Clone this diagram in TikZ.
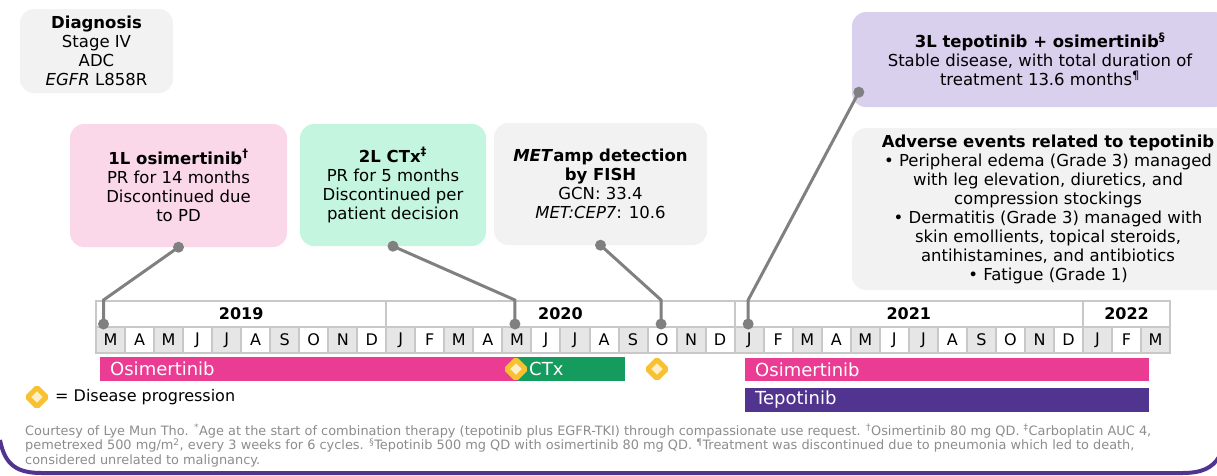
\documentclass[tikz,border=0pt]{standalone}
\usepackage{fontspec}
\setmainfont{DejaVu Sans}
\usepackage{tikz}
\usetikzlibrary{positioning, shapes.geometric}

\definecolor{boxgrey}{HTML}{F2F2F2}
\definecolor{boxpink}{HTML}{FAD7E9}
\definecolor{boxgreen}{HTML}{C3F5DF}
\definecolor{boxlilac}{HTML}{D9D0EE}
\definecolor{osipink}{HTML}{E93C92}
\definecolor{ctxgreen}{HTML}{169B5F}
\definecolor{tepopurple}{HTML}{51348F}
\definecolor{lnkgrey}{HTML}{808080}
\definecolor{gridgrey}{HTML}{C8C8C8}
\definecolor{cellgrey}{HTML}{E6E6E6}
\definecolor{pdyellow}{HTML}{F8C132}
\definecolor{pdlight}{HTML}{FDEFC9}
\definecolor{notegrey}{HTML}{8C8C8C}

\begin{document}
\begin{tikzpicture}[
        x=1pt, y=-1pt,
        infobox/.style={rectangle, rounded corners=14pt, align=center, inner sep=0pt, font=\fontsize{16.5}{19}\selectfont},
        conn/.style={draw=lnkgrey, line width=3pt},
        knob/.style={circle, fill=lnkgrey, inner sep=0pt, minimum size=11pt},
        mcell/.style={draw=gridgrey, line width=2pt, inner sep=0pt, minimum height=26pt, font=\fontsize{16}{16}\selectfont},
        tbar/.style={anchor=north west, inner xsep=10pt, inner ysep=0pt, minimum height=23.5pt, text=white, align=left, font=\fontsize{18}{18}\selectfont},
        pd/.style={diamond, aspect=1, minimum size=21pt, inner sep=0pt, fill=pdlight, draw=pdyellow, line width=5pt, rounded corners=1.5pt}]

    \clip (0,0) rectangle (1217,475);

    % Boites
    \node[infobox, fill=boxgrey, minimum width=153pt, minimum height=84pt] (diag) at (96.5,51)
        {\textbf{Diagnosis}\\Stage IV\\ADC\\\textit{EGFR} L858R};
    \node[infobox, fill=boxpink, minimum width=217pt, minimum height=123pt] (first) at (178.5,185.5)
        {\textbf{1L osimertinib\textsuperscript{†}}\\PR for 14 months\\Discontinued due\\to PD};
    \node[infobox, fill=boxgreen, minimum width=186pt, minimum height=122pt] (second) at (393,185)
        {\textbf{2L CTx\textsuperscript{‡}}\\PR for 5 months\\Discontinued per\\patient decision};
    \node[infobox, fill=boxgrey, minimum width=213pt, minimum height=122pt] (met) at (600.5,184)
        {\textbf{\textit{MET}amp detection}\\\textbf{by FISH}\\GCN: 33.4\\\textit{MET:CEP7}: 10.6};
    \node[infobox, fill=boxlilac, minimum width=376pt, minimum height=95pt] (third) at (1040,59.5)
        {\textbf{3L tepotinib + osimertinib\textsuperscript{§}}\\Stable disease, with total duration of\\treatment 13.6 months\textsuperscript{¶}};
    \node[infobox, fill=boxgrey, minimum width=392pt, minimum height=162pt] (ae) at (1048,209)
        {\textbf{Adverse events related to tepotinib}\\
         • Peripheral edema (Grade 3) managed\\
         with leg elevation, diuretics, and\\
         compression stockings\\
         • Dermatitis (Grade 3) managed with\\
         skin emollients, topical steroids,\\
         antihistamines, and antibiotics\\
         • Fatigue (Grade 1)};

    % Mois
    \foreach \mo [count=\i from 0] in {M,A,M,J,J,A,S,O,N,D,J,F,M,A,M,J,J,A,S,O,N,D,J,F,M,A,M,J,J,A,S,O,N,D,J,F,M} {
        \ifodd\i \def\cf{white}\else \def\cf{cellgrey}\fi
        \node[mcell, fill=\cf, minimum width=29.03pt] (m\i) at ({96+29.03*(\i+0.5)},340) {\mo};
    }
    % Annees
    \foreach \yr/\st/\nm in {2019/0/10, 2020/10/12, 2021/22/12, 2022/34/3}
        \node[mcell, fill=white, minimum width={29.03*\nm}, font=\fontsize{16}{16}\selectfont\bfseries] (y\yr) at ({96+29.03*(\st+\nm/2)},314) {\yr};

    % Liens boites -> mois
    \node[knob] (k1a) at (first.south) {};
    \node[knob] (k1b) at ([xshift=-7pt, yshift=2pt]m0.north) {};
    \node[knob] (k2a) at (second.south) {};
    \node[knob] (k2b) at ([xshift=-2pt, yshift=2pt]m14.north) {};
    \node[knob] (k3a) at (met.south) {};
    \node[knob] (k3b) at ([xshift=-1pt, yshift=2pt]m19.north) {};
    \node[knob] (k4a) at ([xshift=7pt, yshift=15pt]third.south west) {};
    \node[knob] (k4b) at ([xshift=-1pt, yshift=2pt]m22.north) {};
    \draw[conn] (k1a.center) -- (k1b |- y2019.north) -- (k1b.center);
    \draw[conn] (k2a.center) -- (k2b |- y2020.north) -- (k2b.center);
    \draw[conn] (k3a.center) -- (k3b |- y2020.north) -- (k3b.center);
    \draw[conn] (k4a.center) -- (k4b |- y2021.north) -- (k4b.center);

    % Traitements
    \node[tbar, fill=osipink, minimum width=417pt, text width=397pt] (osi1) at (100,357) {Osimertinib};
    \node[tbar, fill=ctxgreen, minimum width=107pt, text width=86pt, inner xsep=11pt] (ctx) at (517,357) {\hspace*{1pt}CTx};
    \node[tbar, fill=osipink, minimum width=404pt, text width=384pt] (osi2) at (745,357.5) {Osimertinib};
    \node[tbar, fill=tepopurple, minimum width=404pt, text width=384pt] (tepo) at (745,388) {Tepotinib};
    \node[pd] (pd1) at (516,369) {};
    \node[pd] (pd2) at (657,369) {};

    % Legende
    \node[pd] (pdkey) at (37,397) {};
    \node[right=5pt of pdkey, inner sep=0pt, font=\fontsize{16}{16}\selectfont] (key) {= Disease progression};

    \node[anchor=north west, align=left, inner sep=0pt, text=notegrey, font=\fontsize{12.9}{14.5}\selectfont] (note) at (25,424)
        {Courtesy of Lye Mun Tho. \textsuperscript{*}Age at the start of combination therapy (tepotinib plus EGFR-TKI) through compassionate use request. \textsuperscript{†}Osimertinib 80 mg QD. \textsuperscript{‡}Carboplatin AUC 4,\\
         pemetrexed 500 mg/m\textsuperscript{2}, every 3 weeks for 6 cycles. \textsuperscript{§}Tepotinib 500 mg QD with osimertinib 80 mg QD. \textsuperscript{¶}Treatment was discontinued due to pneumonia which led to death,\\
         considered unrelated to malignancy.};

    % Cadre
    \draw[tepopurple, line width=4pt] (0,440) .. controls (5,466) and (18,473) .. (42,473) -- (1182,473) .. controls (1202,473) and (1212,468) .. (1219,457);

\end{tikzpicture}
\end{document}
